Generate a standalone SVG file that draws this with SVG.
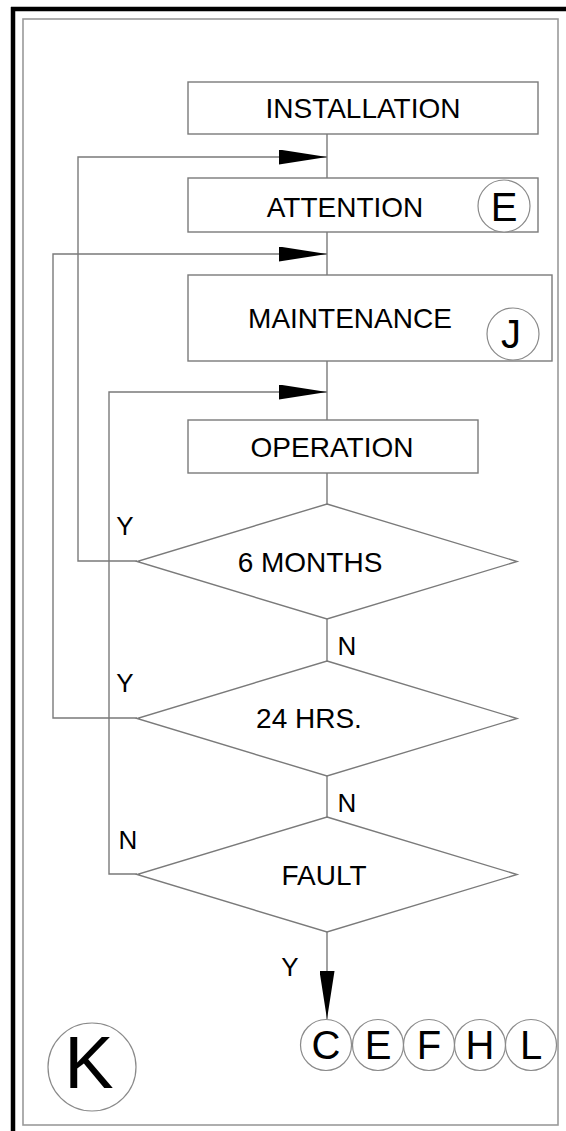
<svg xmlns="http://www.w3.org/2000/svg" width="566" height="1131" viewBox="0 0 566 1131">
<defs>
<style>
.box{fill:#fff;stroke:#7a7a7a;stroke-width:1.4}
.dia{fill:#fff;stroke:#7a7a7a;stroke-width:1.4}
.ln{fill:none;stroke:#7a7a7a;stroke-width:1.4}
.circ{fill:#fff;stroke:#8a8a8a;stroke-width:1.2}
.t{font-family:"Liberation Sans",Arial,sans-serif;font-size:28px;fill:#000;text-anchor:middle}
.lbl{font-family:"Liberation Sans",Arial,sans-serif;font-size:26px;fill:#000;text-anchor:middle}
.big{font-family:"Liberation Sans",Arial,sans-serif;font-size:40px;fill:#000;text-anchor:middle}
</style>
<marker id="ah" markerUnits="userSpaceOnUse" markerWidth="48" markerHeight="15" refX="48" refY="7.5" orient="auto">
<path d="M0,0 L48,7.5 L0,15 Z" fill="#000"/>
</marker>
</defs>
<rect x="0" y="0" width="566" height="1131" fill="#fff"/>
<g id="frame">
<line x1="11" y1="9" x2="566" y2="9" stroke="#000" stroke-width="4.5"/>
<line x1="13" y1="7" x2="13" y2="1131" stroke="#000" stroke-width="4.5"/>
<rect x="23" y="19" width="535" height="1106" fill="none" stroke="#9a9a9a" stroke-width="1.6"/>
</g>
<g id="connectors">
<line class="ln" x1="327" y1="134" x2="327" y2="178"/>
<line class="ln" x1="327" y1="232" x2="327" y2="275"/>
<line class="ln" x1="327" y1="361" x2="327" y2="420"/>
<line class="ln" x1="327" y1="473" x2="327" y2="504"/>
<line class="ln" x1="327" y1="619" x2="327" y2="661"/>
<line class="ln" x1="327" y1="776" x2="327" y2="817"/>
<line class="ln" x1="327" y1="932" x2="327" y2="1019" marker-end="url(#ah)"/>
<polyline class="ln" points="137,561 78,561 78,157 327,157" marker-end="url(#ah)"/>
<polyline class="ln" points="137,718 53,718 53,254 327,254" marker-end="url(#ah)"/>
<polyline class="ln" points="137,874 109,874 109,392 327,392" marker-end="url(#ah)"/>
<text class="lbl" x="125" y="535">Y</text>
<text class="lbl" x="347" y="655">N</text>
<text class="lbl" x="125" y="692">Y</text>
<text class="lbl" x="347" y="812">N</text>
<text class="lbl" x="128" y="849">N</text>
<text class="lbl" x="290" y="976">Y</text>
</g>
<g id="installation">
<rect class="box" x="188" y="82" width="350" height="52"/>
<text class="t" x="363" y="118">INSTALLATION</text>
</g>
<g id="attention">
<rect class="box" x="188" y="178" width="350" height="54"/>
<text class="t" x="345" y="217">ATTENTION</text>
<circle class="circ" cx="504" cy="206" r="26"/>
<text class="big" x="504" y="221">E</text>
</g>
<g id="maintenance">
<rect class="box" x="188" y="275" width="364" height="86"/>
<text class="t" x="350" y="328">MAINTENANCE</text>
<circle class="circ" cx="513" cy="334" r="26"/>
<text class="big" x="511" y="348">J</text>
</g>
<g id="operation">
<rect class="box" x="188" y="420" width="290" height="53"/>
<text class="t" x="332" y="457">OPERATION</text>
</g>
<g id="six-months">
<polygon class="dia" points="327,504 517,561.5 327,619 137,561.5"/>
<text class="t" x="310" y="572">6 MONTHS</text>
</g>
<g id="twentyfour-hrs">
<polygon class="dia" points="327,661 517,718.5 327,776 137,718.5"/>
<text class="t" x="309" y="728">24 HRS.</text>
</g>
<g id="fault">
<polygon class="dia" points="327,817 517,874.5 327,932 137,874.5"/>
<text class="t" x="324" y="885">FAULT</text>
</g>
<g id="refs">
<circle class="circ" cx="326" cy="1045" r="25.5"/>
<text class="big" x="326" y="1059">C</text>
<circle class="circ" cx="378" cy="1045" r="25.5"/>
<text class="big" x="378" y="1059">E</text>
<circle class="circ" cx="429" cy="1045" r="25.5"/>
<text class="big" x="429" y="1059">F</text>
<circle class="circ" cx="480" cy="1045" r="25.5"/>
<text class="big" x="480" y="1059">H</text>
<circle class="circ" cx="531" cy="1045" r="25.5"/>
<text class="big" x="531" y="1059">L</text>
</g>
<g id="k">
<circle class="circ" cx="92" cy="1067" r="44"/>
<text class="big" style="font-size:74px" x="89" y="1088">K</text>
</g>
</svg>
